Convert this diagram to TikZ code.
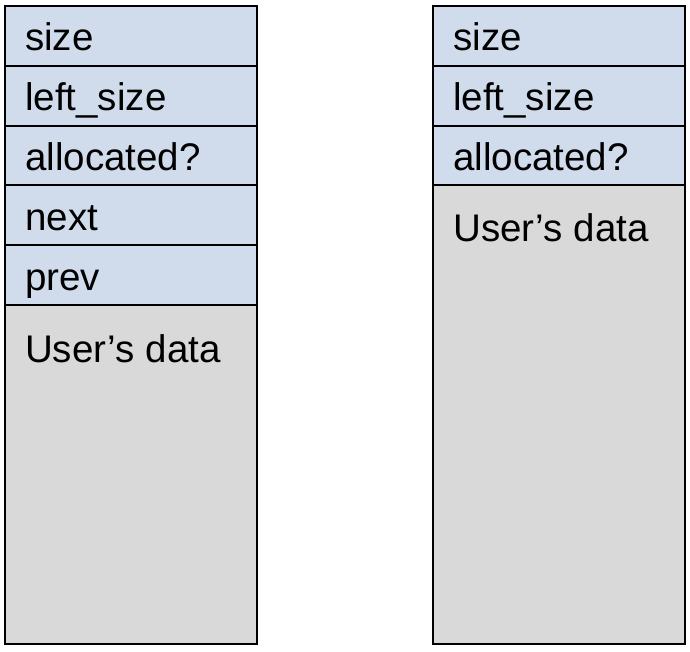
\documentclass[tikz,border=0pt]{standalone}
\usepackage{fontspec}
\setmainfont{Liberation Sans}
\usetikzlibrary{calc}
\definecolor{cellblue}{HTML}{D0DCEC}
\definecolor{cellgray}{HTML}{D9D9D9}
\begin{document}
\begin{tikzpicture}[x=1pt,y=-1pt,
  cell/.style={draw=black, line width=2pt, inner sep=0pt, outer sep=0pt, anchor=north west, minimum width=251.5pt},
  hdr/.style={cell, fill=cellblue, minimum height=59.8pt},
  bodycell/.style={cell, fill=cellgray},
  lbl/.style={anchor=base west, inner sep=0pt, font=\fontsize{38.5}{44}\selectfont}]
\useasboundingbox (0,0) rectangle (690,652);
% left column
\node[bodycell, minimum height=339pt] (Lb) at (5,305) {};
\node[hdr] (L1) at (5,6) {};
\node[hdr] (L2) at (5,65.8) {};
\node[hdr] (L3) at (5,125.6) {};
\node[hdr] (L4) at (5,185.4) {};
\node[hdr] (L5) at (5,245.2) {};
\node[lbl] (tL1) at ($(L1.north west)+(20,45)$) {size};
\node[lbl] (tL2) at ($(L2.north west)+(20,45)$) {left\_size};
\node[lbl] (tL3) at ($(L3.north west)+(20,45)$) {allocated?};
\node[lbl] (tL4) at ($(L4.north west)+(20,45)$) {next};
\node[lbl] (tL5) at ($(L5.north west)+(20,45)$) {prev};
\node[lbl] (tLb) at ($(Lb.north west)+(20,57)$) {User’s data};
% right column
\node[bodycell, minimum height=459pt] (Rb) at (433,185) {};
\node[hdr] (R1) at (433,6) {};
\node[hdr] (R2) at (433,65.8) {};
\node[hdr] (R3) at (433,125.6) {};
\node[lbl] (tR1) at ($(R1.north west)+(20,45)$) {size};
\node[lbl] (tR2) at ($(R2.north west)+(20,45)$) {left\_size};
\node[lbl] (tR3) at ($(R3.north west)+(20,45)$) {allocated?};
\node[lbl] (tRb) at ($(Rb.north west)+(20,57)$) {User’s data};
\end{tikzpicture}
\end{document}
